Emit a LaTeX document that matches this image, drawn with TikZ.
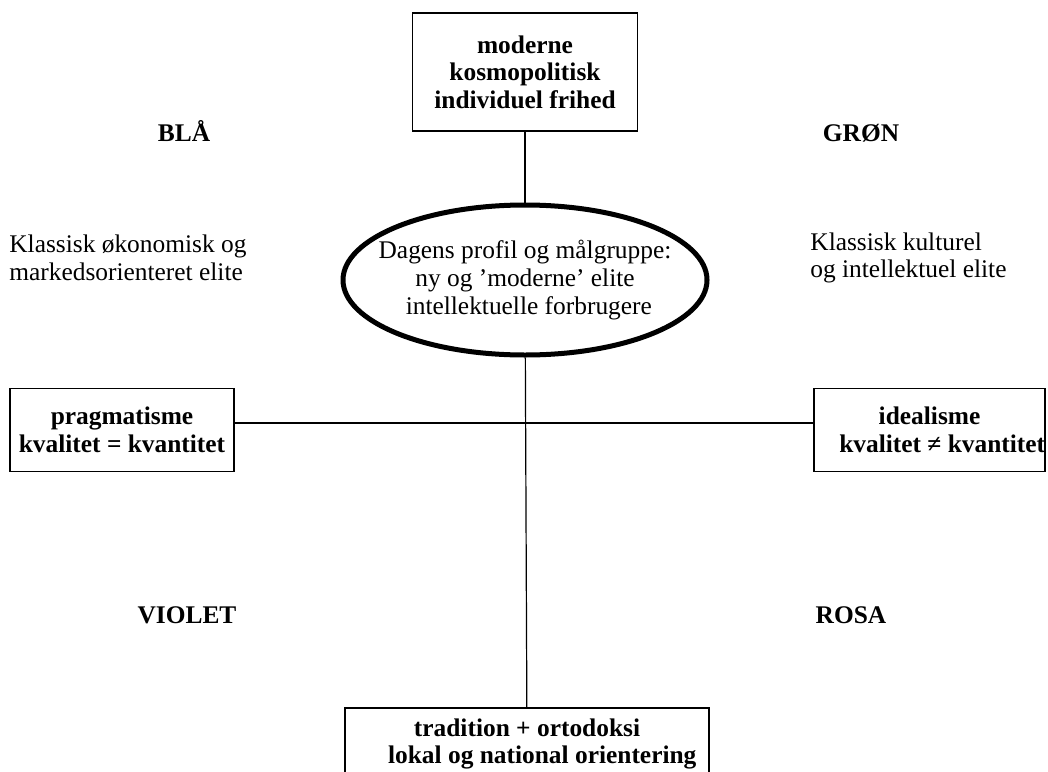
\documentclass[tikz,border=0pt]{standalone}
\usepackage{fontspec}
\setmainfont{Liberation Serif}
\usetikzlibrary{shapes.geometric}

\begin{document}
\begin{tikzpicture}[x=0.5pt, y=-0.5pt]

\tikzset{
  tekst/.style={font=\fontsize{12.7}{13.8}\selectfont, inner sep=0pt},
  boks/.style={tekst, draw, line width=0.8pt, font=\fontsize{12.7}{13.8}\selectfont\bfseries, align=center},
  farve/.style={tekst, anchor=base, font=\fontsize{12.7}{13.8}\selectfont\bfseries},
  linje/.style={line width=0.6pt}
}

% ramme
\clip (0,0) rectangle (1048,771);

% 1. Akse: top og bund
\node[boks, minimum width=112.5pt, minimum height=59pt] (top) at (525, 72) {moderne\\kosmopolitisk\\individuel frihed};
\node[boks, minimum width=182pt, minimum height=36pt, anchor=north, inner ysep=3pt] (trad) at (527, 707) {tradition + ortodoksi\\\hspace*{1.2em}lokal og national orientering};

% 2. Ellipse i midten
\node[tekst, draw, ellipse, line width=2.5pt, inner xsep=-12pt, minimum width=182pt, minimum height=75pt, align=center] (profil) at (525, 280) {Dagens profil og målgruppe:\\ny og ’moderne’ elite\\\hspace*{0.3em}intellektuelle forbrugere};

% 3. Akse: venstre og højre
\node[boks, minimum width=112pt, minimum height=41.5pt] (prag) at (122, 430) {pragmatisme\\kvalitet = kvantitet};
\node[boks, minimum width=115.5pt, minimum height=41.5pt] (ideal) at (929.5, 430) {idealisme\\\hspace*{1em}kvalitet ≠ kvantitet};
\coordinate (kryds) at (524, 423);

% 4. Forbindelser
\draw[linje] (top) -- (profil);
\draw[linje] (profil) -- (trad);
\draw[linje] (prag.east |- kryds) -- (ideal.west |- kryds);

% 5. Farver og grupper
\node[farve] (blaa) at (184, 141) {BLÅ};
\node[farve] (groen) at (861, 141) {GRØN};
\node[farve] (violet) at (187, 623) {VIOLET};
\node[farve] (rosa) at (851, 623) {ROSA};

\node[tekst, align=left, anchor=west] (oekonomi) at (9, 258) {Klassisk økonomisk og\\markedsorienteret elite};
\node[tekst, align=left, anchor=west] (kultur) at (810, 258) {Klassisk kulturel\\og intellektuel elite};

\end{tikzpicture}
\end{document}
